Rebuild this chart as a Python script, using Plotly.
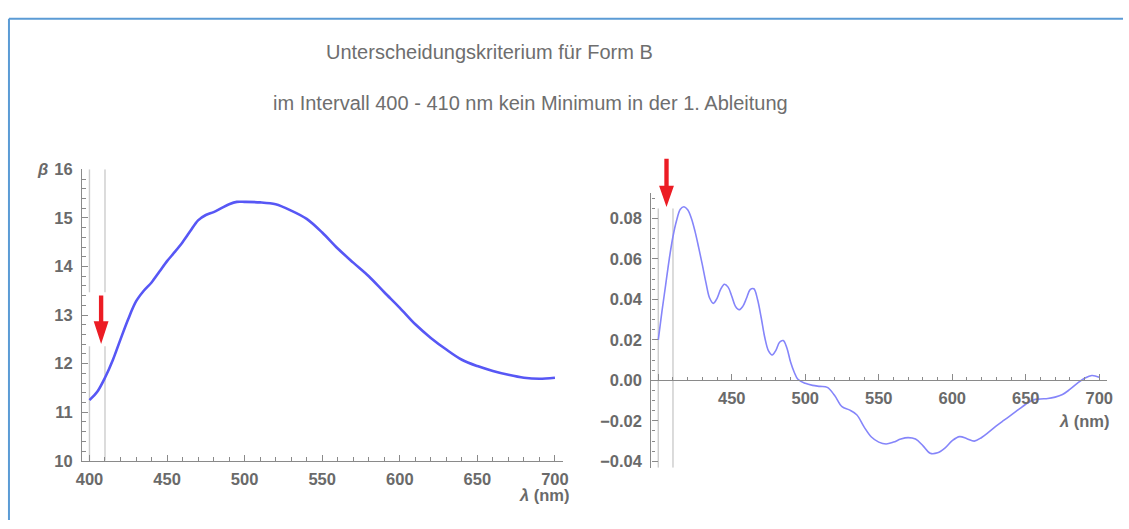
import plotly.graph_objects as go

# ---------------- data ----------------
wavelength_beta = [400, 405, 410, 415, 420, 425, 430, 435, 440, 445, 450, 455, 460, 465,
                   470, 475, 480, 485, 490, 495, 500, 510, 520, 530, 540, 550, 560, 570,
                   580, 590, 600, 610, 620, 630, 640, 650, 660, 670, 680, 690, 700]
beta = [11.25, 11.42, 11.71, 12.07, 12.50, 12.92, 13.28, 13.50, 13.67, 13.89, 14.11, 14.30,
        14.50, 14.73, 14.95, 15.06, 15.12, 15.20, 15.28, 15.33, 15.33, 15.32, 15.28, 15.15,
        14.98, 14.70, 14.37, 14.08, 13.80, 13.47, 13.15, 12.81, 12.53, 12.29, 12.08, 11.95,
        11.85, 11.77, 11.71, 11.69, 11.71]

wavelength_deriv = [400, 402.5, 405, 407.5, 410, 412.5, 415, 417.5, 420, 422.5, 425, 427.5,
                    430, 432.5, 435, 437.5, 440, 442.5, 445, 447.5, 450, 452.5, 455, 457.5,
                    460, 462.5, 465, 467.5, 470, 472.5, 475, 477.5, 480, 482.5, 485, 487.5,
                    490, 492.5, 495, 500, 505, 510, 515, 520, 525, 530, 535, 540, 545, 550,
                    555, 560, 565, 570, 575, 580, 585, 590, 595, 600, 605, 610, 615, 620,
                    625, 630, 635, 640, 645, 650, 655, 660, 665, 670, 675, 680, 685, 690,
                    695, 700]
deriv = [0.020, 0.034, 0.047, 0.060, 0.071, 0.079, 0.0845, 0.0857, 0.0842, 0.080, 0.0735,
         0.0655, 0.057, 0.048, 0.0405, 0.0380, 0.0405, 0.045, 0.0474, 0.0460, 0.0415, 0.0365,
         0.0348, 0.0365, 0.0405, 0.0448, 0.0452, 0.0400, 0.031, 0.021, 0.0145, 0.0125, 0.0148,
         0.0188, 0.0196, 0.016, 0.009, 0.004, 0.0005, -0.0015, -0.0025, -0.003, -0.0035,
         -0.0075, -0.013, -0.0146, -0.017, -0.023, -0.028, -0.0305, -0.0314, -0.0305, -0.029,
         -0.0283, -0.029, -0.0322, -0.0360, -0.0358, -0.0335, -0.0298, -0.0278, -0.0288,
         -0.0300, -0.0282, -0.0255, -0.0225, -0.0198, -0.0172, -0.0145, -0.0118, -0.0097,
         -0.0092, -0.0090, -0.0083, -0.0070, -0.0045, -0.0015, 0.0010, 0.0024, 0.0015]

beta_xticks = [400, 450, 500, 550, 600, 650, 700]
beta_yticks = [10, 11, 12, 13, 14, 15, 16]
deriv_xticks = [400, 450, 500, 550, 600, 650, 700]
deriv_xlabels = ["", "450", "500", "550", "600", "650", "700"]
deriv_yticks = [-0.04, -0.02, 0.00, 0.02, 0.04, 0.06, 0.08]
deriv_ylabels = ["\u22120.04", "\u22120.02", "0.00", "0.02", "0.04", "0.06", "0.08"]

interval = [400, 410]

title_1 = "Unterscheidungskriterium für Form B"
title_2 = "im Intervall 400 - 410 nm kein Minimum in der 1. Ableitung"

# ---------------- layout geometry ----------------
W, H = 1129, 529


def pxx(p):
    return p / W


def pxy(p):
    return 1 - p / H


left_xdom = [pxx(77), pxx(563)]
left_xrng = [395.3, 705.2]
left_ydom = [pxy(467.7), pxy(166)]
left_yrng = [10, 16]

right_xdom = [pxx(652.3), pxx(1113)]
right_xrng = [395.3, 705.4]
right_ydom = [pxy(475), pxy(190)]
right_yrng = [-0.0432, 0.0927]


def to_paper(v, dom, rng):
    return dom[0] + (v - rng[0]) / (rng[1] - rng[0]) * (dom[1] - dom[0])


axis_grey = "#8a8a8a"
label_grey = "#6a6a6a"
tick_font = dict(family="Liberation Sans", size=16.5, color=label_grey, weight="bold")

fig = go.Figure()

fig.add_trace(go.Scatter(
    x=wavelength_beta, y=beta, xaxis="x", yaxis="y", mode="lines",
    line=dict(color="#5757f5", width=2.6, shape="spline", smoothing=0.9),
    hoverinfo="skip", showlegend=False))

fig.add_trace(go.Scatter(
    x=wavelength_deriv, y=deriv, xaxis="x2", yaxis="y2", mode="lines",
    line=dict(color="#8585fa", width=1.6, shape="spline", smoothing=1.0),
    hoverinfo="skip", showlegend=False))

common_axis = dict(showline=True, linecolor=axis_grey, linewidth=1.3, showgrid=False,
                   zeroline=False, ticks="inside", tickcolor=axis_grey, tickwidth=1.2,
                   ticklen=6, tickfont=tick_font, fixedrange=True)

fig.update_layout(
    width=W, height=H,
    margin=dict(l=0, r=0, t=0, b=0),
    paper_bgcolor="white", plot_bgcolor="white",
    xaxis=dict(domain=left_xdom, range=left_xrng, anchor="y", tickvals=beta_xticks,
               ticklabelstandoff=3,
               minor=dict(ticks="inside", dtick=10, tick0=400, ticklen=3.5,
                          tickcolor=axis_grey, tickwidth=1),
               **common_axis),
    yaxis=dict(domain=left_ydom, range=left_yrng, anchor="x", tickvals=beta_yticks,
               ticklabelstandoff=5,
               minor=dict(ticks="inside", dtick=0.2, tick0=10, ticklen=3.5,
                          tickcolor=axis_grey, tickwidth=1),
               **common_axis),
    xaxis2=dict(domain=right_xdom, range=right_xrng, anchor="free",
                position=to_paper(0, right_ydom, right_yrng),
                tickvals=deriv_xticks, ticktext=deriv_xlabels, ticklabelstandoff=3,
                minor=dict(ticks="inside", dtick=10, tick0=400, ticklen=3.5,
                           tickcolor=axis_grey, tickwidth=1),
                **common_axis),
    yaxis2=dict(domain=right_ydom, range=right_yrng, anchor="x2",
                tickvals=deriv_yticks, ticktext=deriv_ylabels, ticklabelstandoff=5,
                minor=dict(ticks="inside", dtick=0.005, tick0=0, ticklen=3.5,
                           tickcolor=axis_grey, tickwidth=1),
                **common_axis),
)

shapes = []

# frame lines (top and left)
shapes.append(dict(type="line", xref="paper", yref="paper", x0=pxx(3), x1=1,
                   y0=pxy(10), y1=pxy(10), line=dict(color="#5b9bd5", width=2)))
shapes.append(dict(type="line", xref="paper", yref="paper", x0=pxx(3), x1=pxx(3),
                   y0=0, y1=pxy(10), line=dict(color="#5b9bd5", width=2)))

# interval markers
grey_line = dict(color="#cccccc", width=1.4)
for wl in interval:
    shapes.append(dict(type="line", xref="x", yref="y", x0=wl, x1=wl, y0=10, y1=12.36,
                       line=grey_line, layer="below"))
    shapes.append(dict(type="line", xref="x", yref="y", x0=wl, x1=wl, y0=13.47, y1=16,
                       line=grey_line, layer="below"))
    shapes.append(dict(type="line", xref="x2", yref="y2", x0=wl, x1=wl,
                       y0=right_yrng[0], y1=0.0848, line=grey_line, layer="below"))


def arrow_path(xc, y_top, y_base, y_tip, shaft_half=2.2, head_half=7.5):
    sh = shaft_half / W
    hh = head_half / W
    return (f"M {xc - sh},{y_top} L {xc + sh},{y_top} L {xc + sh},{y_base} "
            f"L {xc + hh},{y_base} L {xc},{y_tip} L {xc - hh},{y_base} "
            f"L {xc - sh},{y_base} Z")


red = "#ec1c24"
xa = to_paper(407.5, left_xdom, left_xrng)
shapes.append(dict(type="path", xref="paper", yref="paper",
                   path=arrow_path(xa, pxy(296.7), pxy(323.3), pxy(346.7)),
                   fillcolor=red, line=dict(width=0)))
xb = to_paper(405.6, right_xdom, right_xrng)
shapes.append(dict(type="path", xref="paper", yref="paper",
                   path=arrow_path(xb, pxy(155), pxy(183), pxy(205)),
                   fillcolor=red, line=dict(width=0)))

fig.update_layout(shapes=shapes)

title_font = dict(family="Liberation Sans", size=20, color="#6e6e6e")
label_font = dict(family="Liberation Sans", size=16.5, color=label_grey, weight="bold")

annotations = [
    dict(text=title_1, x=pxx(489), y=pxy(45), xref="paper", yref="paper",
         showarrow=False, font=title_font, xanchor="center", yanchor="middle"),
    dict(text=title_2, x=pxx(530), y=pxy(97), xref="paper", yref="paper",
         showarrow=False, font=title_font, xanchor="center", yanchor="middle"),
    dict(text="<i>β</i>", x=pxx(37), y=pxy(166), xref="paper", yref="paper",
         showarrow=False, font=label_font, xanchor="center", yanchor="middle"),
    dict(text="<i>λ</i> (nm)", x=pxx(544), y=pxy(503), xref="paper", yref="paper",
         showarrow=False, font=label_font, xanchor="center", yanchor="middle"),
    dict(text="<i>λ</i> (nm)", x=pxx(1090), y=pxy(427), xref="paper", yref="paper",
         showarrow=False, font=label_font, xanchor="center", yanchor="middle"),
]
fig.update_layout(annotations=annotations)

fig.write_html("out.html")
